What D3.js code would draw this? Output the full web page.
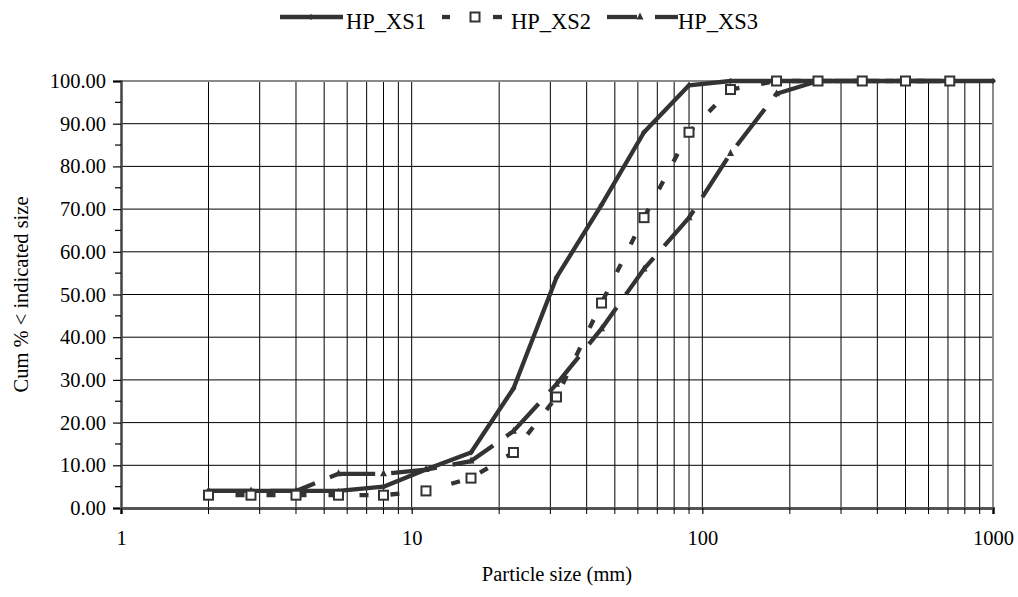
<!DOCTYPE html>
<html><head><meta charset="utf-8">
<script src="https://cdn.jsdelivr.net/npm/d3@7"></script>
<style>
body{margin:0;background:#fff;}
svg text{font-family:"Liberation Serif","Times New Roman",serif;fill:#000;}
</style></head>
<body><svg id="c" width="1018" height="597"></svg>
<script>
const sizes = [2, 2.8, 4, 5.6, 8, 11.2, 16, 22.4, 31.5, 45, 63, 90, 125, 180, 250, 355, 500, 710, 1000];
const hpXS1 = [4, 4, 4, 4, 5, 9, 13, 28, 54, 71, 88, 99, 100, 100, 100, 100, 100, 100, 100];
const hpXS2 = [3, 3, 3, 3, 3, 4, 7, 13, 26, 48, 68, 88, 98, 100, 100, 100, 100, 100, null];
const hpXS3 = [4, 4, 4, 8, 8, 9, 11, 18, 29, 42, 56, 68, 83, 97, 100, 100, 100, 100, null];
const seriesNames = ["HP_XS1", "HP_XS2", "HP_XS3"];
const yTicks = [0, 10, 20, 30, 40, 50, 60, 70, 80, 90, 100];
const xTickLabels = [1, 10, 100, 1000];
const xTitle = "Particle size (mm)";
const yTitle = "Cum % < indicated size";

const svg = d3.select("#c");
const L = 121, R = 993, T = 81, B = 508;
const x = d3.scaleLog().domain([1, 1000]).range([L, R]);
const y = d3.scaleLinear().domain([0, 100]).range([B, T]);

const minor = [];
for (let d = 1; d < 1000; d *= 10) for (let k = 2; k <= 9; k++) minor.push(d * k);

const g = svg.append("g");
g.selectAll(".vg").data(minor.concat([10, 100])).join("line")
  .attr("x1", d => x(d)).attr("x2", d => x(d)).attr("y1", T).attr("y2", B)
  .attr("stroke", "#000").attr("stroke-width", 1);
g.selectAll(".hg").data(yTicks.filter(v => v > 0 && v < 100)).join("line")
  .attr("x1", L).attr("x2", R).attr("y1", d => y(d)).attr("y2", d => y(d))
  .attr("stroke", "#000").attr("stroke-width", 1);
g.append("line").attr("x1", L).attr("x2", R + 1).attr("y1", T).attr("y2", T).attr("stroke", "#8a8a8a").attr("stroke-width", 2);
g.append("line").attr("x1", R).attr("x2", R).attr("y1", T).attr("y2", B).attr("stroke", "#8a8a8a").attr("stroke-width", 2);

const yAxis = d3.axisLeft(y).tickValues(yTicks).tickSize(8).tickFormat(d => d.toFixed(2));
const ya = svg.append("g").attr("transform", `translate(${L},0)`).call(yAxis);
ya.select(".domain").attr("stroke", "#444").attr("stroke-width", 2.5);
ya.selectAll(".tick line").attr("stroke", "#000").attr("stroke-width", 1.2);
ya.selectAll("text").attr("font-size", 20.5).attr("font-family", "Liberation Serif").attr("x", -15);
svg.append("g").selectAll("line").data(d3.range(5, 100, 10)).join("line")
  .attr("x1", L - 6).attr("x2", L).attr("y1", d => y(d)).attr("y2", d => y(d))
  .attr("stroke", "#000").attr("stroke-width", 1.2);

const xAxis = d3.axisBottom(x).tickValues(xTickLabels).tickSize(6).tickFormat(d3.format("d"));
const xa = svg.append("g").attr("transform", `translate(0,${B})`).call(xAxis);
xa.select(".domain").attr("stroke", "#555").attr("stroke-width", 3);
xa.selectAll(".tick line").attr("stroke", "#000").attr("stroke-width", 1.2);
xa.selectAll("text").attr("font-size", 20.5).attr("font-family", "Liberation Serif").attr("y", 22);
svg.append("g").selectAll("line").data(minor).join("line")
  .attr("x1", d => x(d)).attr("x2", d => x(d)).attr("y1", B).attr("y2", B + 6)
  .attr("stroke", "#000").attr("stroke-width", 1);

svg.append("text").attr("x", (L + R) / 2).attr("y", 581).attr("text-anchor", "middle")
  .attr("font-size", 20.5).text(xTitle);
svg.append("text").attr("transform", `translate(28,${(T + B) / 2}) rotate(-90)`)
  .attr("text-anchor", "middle").attr("font-size", 20.5).text(yTitle);

const col = "#333";
const lw = 4.3;
const lineGen = d3.line().defined(d => d[1] != null).x(d => x(d[0])).y(d => y(d[1]));
const styles = [
  { vals: hpXS1, dash: null },
  { vals: hpXS2, dash: "9,22", off: 4 },
  { vals: hpXS3, dash: "46,16", off: 0 }
];
const plot = svg.append("g");
styles.forEach(s => {
  const pts = sizes.map((sz, i) => [sz, s.vals[i]]);
  const p = plot.append("path").datum(pts).attr("d", lineGen)
    .attr("fill", "none").attr("stroke", col).attr("stroke-width", lw)
    .attr("stroke-linejoin", "round");
  if (s.dash) p.attr("stroke-dasharray", s.dash).attr("stroke-dashoffset", s.off);
  else p.attr("stroke-linecap", "round");
});
function marker(sel, type, cx, cy) {
  if (type === 0) {
    sel.append("path").attr("d", `M${cx},${cy - 3}L${cx + 3},${cy}L${cx},${cy + 3}L${cx - 3},${cy}Z`).attr("fill", col);
  } else if (type === 1) {
    sel.append("rect").attr("x", cx - 4.5).attr("y", cy - 4.5).attr("width", 9).attr("height", 9)
      .attr("fill", "#fff").attr("stroke", col).attr("stroke-width", 2);
  } else {
    sel.append("path").attr("d", `M${cx},${cy - 4.5}L${cx + 3.5},${cy + 2.5}L${cx - 3.5},${cy + 2.5}Z`).attr("fill", col);
  }
}
const mg = svg.append("g");
[hpXS3, hpXS1, hpXS2].forEach((vals) => {
  const t = vals === hpXS1 ? 0 : vals === hpXS2 ? 1 : 2;
  sizes.forEach((sz, i) => { if (vals[i] != null) marker(mg, t, x(sz), y(vals[i])); });
});

const lg = svg.append("g");
const ly = 17;
lg.append("line").attr("x1", 280).attr("x2", 343).attr("y1", ly).attr("y2", ly).attr("stroke", col).attr("stroke-width", lw);
marker(lg, 0, 311, ly);
lg.append("text").attr("x", 346).attr("y", 29).attr("font-size", 22.5).text(seriesNames[0]);
lg.append("line").attr("x1", 442).attr("x2", 450).attr("y1", ly).attr("y2", ly).attr("stroke", col).attr("stroke-width", lw);
lg.append("line").attr("x1", 493).attr("x2", 502).attr("y1", ly).attr("y2", ly).attr("stroke", col).attr("stroke-width", lw);
marker(lg, 1, 475, ly);
lg.append("text").attr("x", 511).attr("y", 29).attr("font-size", 22.5).text(seriesNames[1]);
lg.append("line").attr("x1", 607).attr("x2", 637).attr("y1", ly).attr("y2", ly).attr("stroke", col).attr("stroke-width", lw);
lg.append("line").attr("x1", 655).attr("x2", 678).attr("y1", ly).attr("y2", ly).attr("stroke", col).attr("stroke-width", lw);
marker(lg, 2, 640, ly);
lg.append("text").attr("x", 678).attr("y", 29).attr("font-size", 22.5).text(seriesNames[2]);
</script></body></html>
